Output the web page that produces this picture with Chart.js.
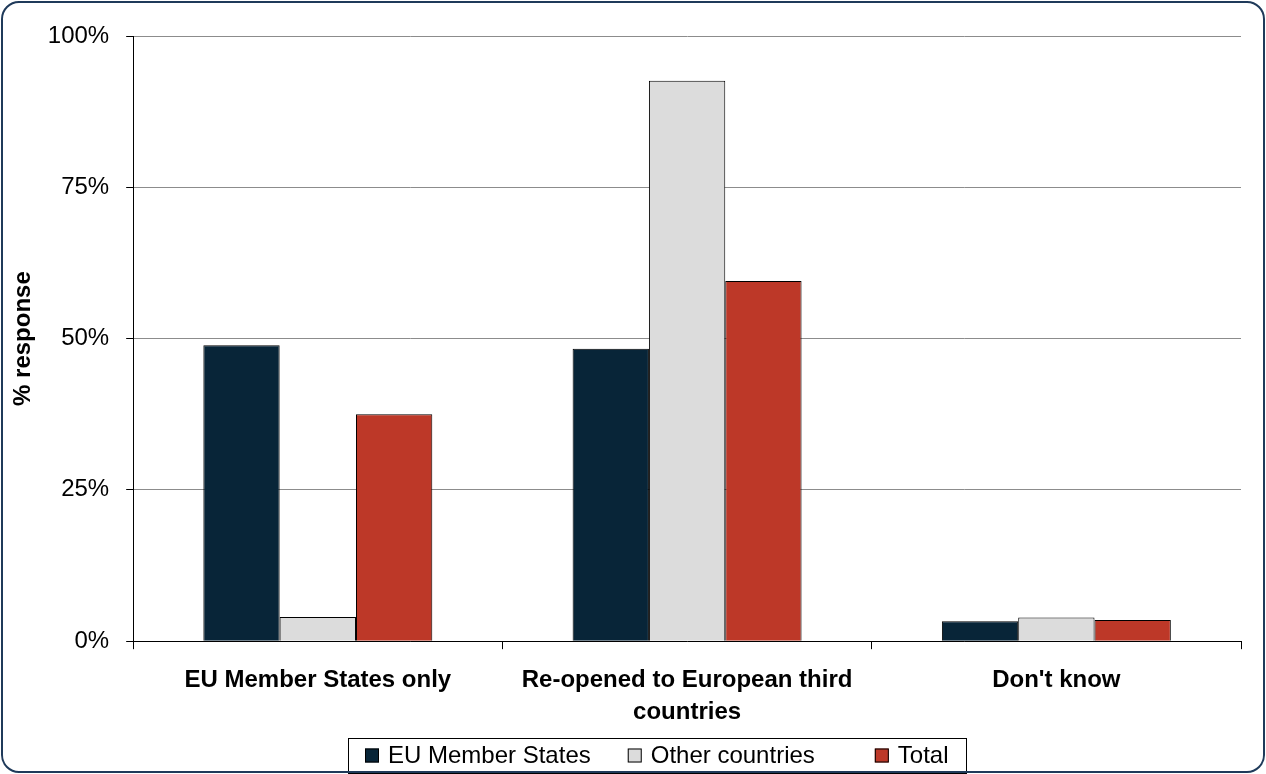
<!DOCTYPE html>
<html>
<head>
<meta charset="utf-8">
<script src="https://cdn.jsdelivr.net/npm/chart.js@4/dist/chart.umd.min.js"></script>
<style>
    html, body { margin: 0; padding: 0; background: #fff; }
    #wrap { position: relative; width: 1266px; height: 774px; overflow: hidden; }
    #frame {
        position: absolute; left: 1px; top: 1px; width: 1260px; height: 768px;
        border: 2px solid #1f3a5a; border-radius: 18px; pointer-events: none;
    }
</style>
</head>
<body>
<div id="wrap">
    <canvas id="chart" width="1266" height="774"></canvas>
    <div id="frame"></div>
</div>
<script>
// Données
const categories = ['EU Member States only', ['Re-opened to European third', 'countries'], "Don't know"];
const euMemberStates = [48.9, 48.3, 3.3];
const otherCountries = [4.0, 92.6, 3.9];
const totalValues = [37.5, 59.5, 3.5];
const yTicks = [0, 25, 50, 75, 100];

const FONT = 'Liberation Sans, Arial, sans-serif';

// Légende encadrée façon Excel (dessinée sur le canvas)
const boxedLegend = {
    id: 'boxedLegend',
    afterDraw(chart, args, opts) {
        const ctx = chart.ctx;
        const { left, top, bottom, gaps } = opts;
        ctx.save();
        ctx.font = '24px ' + FONT;
        ctx.textBaseline = 'middle';
        const midY = (top + bottom) / 2;
        let x = left + 17;
        chart.data.datasets.forEach((ds, i) => {
            ctx.fillStyle = ds.backgroundColor;
            ctx.fillRect(x, midY - 7, 14, 14);
            ctx.strokeStyle = '#000';
            ctx.lineWidth = 1;
            ctx.strokeRect(x + 0.5, midY - 6.5, 13, 13);
            ctx.fillStyle = '#000';
            ctx.fillText(ds.label, x + 23, midY + 1);
            x += 23 + ctx.measureText(ds.label).width + (gaps[i] || 0);
        });
        const right = x + 17;
        ctx.strokeRect(left + 0.5, top + 0.5, Math.round(right - left), bottom - top);
        ctx.restore();
    }
};

const ctx = document.getElementById('chart').getContext('2d');

new Chart(ctx, {
    type: 'bar',
    data: {
        labels: categories,
        datasets: [
            {
                label: 'EU Member States',
                data: euMemberStates,
                backgroundColor: '#082538',
                borderColor: '#000',
                borderWidth: 1
            },
            {
                label: 'Other countries',
                data: otherCountries,
                backgroundColor: '#dcdcdc',
                borderColor: '#000',
                borderWidth: 1
            },
            {
                label: 'Total',
                data: totalValues,
                backgroundColor: '#bd3828',
                borderColor: '#000',
                borderWidth: 1
            }
        ]
    },
    options: {
        responsive: false,
        animation: false,
        layout: { padding: { left: 4, right: 25, top: 36, bottom: 31 } },
        datasets: {
            bar: { barPercentage: 1, categoryPercentage: 0.62 }
        },
        plugins: {
            tooltip: { enabled: false },
            legend: { display: false },
            boxedLegend: { left: 348, top: 738, bottom: 773, gaps: [37, 60] }
        },
        scales: {
            x: {
                grid: {
                    offset: true,
                    drawOnChartArea: true,
                    color: c => c.index === categories.length ? '#8c8c8c' : 'rgba(0,0,0,0)',
                    tickColor: '#000',
                    tickLength: 8
                },
                border: { color: '#000', width: 1 },
                ticks: {
                    color: '#000',
                    font: { family: FONT, size: 24, weight: 'bold', lineHeight: 1.33 },
                    padding: 15,
                    maxRotation: 0
                }
            },
            y: {
                min: 0,
                max: 100,
                afterBuildTicks: axis => { axis.ticks = yTicks.map(v => ({ value: v })); },
                grid: {
                    color: '#8c8c8c',
                    tickColor: '#000',
                    tickLength: 7
                },
                border: { color: '#000', width: 1 },
                ticks: {
                    color: '#000',
                    font: { family: FONT, size: 24 },
                    padding: 17,
                    callback: v => v + '%'
                },
                title: {
                    display: true,
                    text: '% response',
                    color: '#000',
                    font: { family: FONT, size: 24, weight: 'bold' },
                    padding: { top: 5, bottom: -7 }
                }
            }
        }
    },
    plugins: [boxedLegend]
});
</script>
</body>
</html>
